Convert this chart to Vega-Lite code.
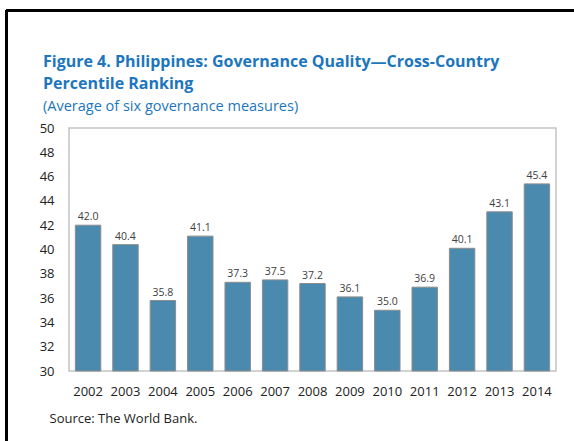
{
  "$schema": "https://vega.github.io/schema/vega-lite/v6.json",
  "width": 487,
  "height": 243,
  "autosize": {"type": "none"},
  "padding": {"left": 69, "top": 128, "right": 18, "bottom": 70},
  "background": "#ffffff",
  "config": {
    "font": "Open Sans",
    "view": {"stroke": "#c4c4c4", "strokeWidth": 1.5},
    "axisY": {"labelOverlap": false, "labelSeparation": 0}
  },
  "title": {
    "text": ["Figure 4. Philippines: Governance Quality\u2014Cross-Country", "Percentile Ranking"],
    "subtitle": "(Average of six governance measures)",
    "anchor": "start",
    "frame": "group",
    "dx": -26,
    "dy": 118,
    "font": "Open Sans",
    "fontSize": 16,
    "fontWeight": "bold",
    "lineHeight": 21.5,
    "color": "#1c76bd",
    "subtitleFont": "Open Sans",
    "subtitleFontSize": 14.5,
    "subtitleColor": "#1c76bd",
    "subtitlePadding": 8,
    "offset": 14
  },
  "data": {
    "values": [
      {"year": "2002", "value": 42.0},
      {"year": "2003", "value": 40.4},
      {"year": "2004", "value": 35.8},
      {"year": "2005", "value": 41.1},
      {"year": "2006", "value": 37.3},
      {"year": "2007", "value": 37.5},
      {"year": "2008", "value": 37.2},
      {"year": "2009", "value": 36.1},
      {"year": "2010", "value": 35.0},
      {"year": "2011", "value": 36.9},
      {"year": "2012", "value": 40.1},
      {"year": "2013", "value": 43.1},
      {"year": "2014", "value": 45.4}
    ]
  },
  "layer": [
    {
      "layer": [
        {
          "mark": {"type": "bar", "fill": "#4a8aae", "stroke": "#8c8c8c", "strokeWidth": 1},
          "encoding": {
            "x": {
              "field": "year",
              "type": "ordinal",
              "scale": {"paddingInner": 0.32, "paddingOuter": 0.17},
              "axis": {
                "title": "Source: The World Bank.",
                "titleAnchor": "start",
                "titleAlign": "left",
                "titleX": -20,
                "titleY": 51,
                "titleBaseline": "alphabetic",
                "titleFont": "Open Sans",
                "titleFontSize": 13,
                "titleFontWeight": "normal",
                "titleColor": "#222222",
                "labelAngle": 0,
                "labelFont": "Open Sans",
                "labelFontSize": 13,
                "labelColor": "#222222",
                "labelPadding": 14,
                "ticks": false,
                "domain": false
              }
            },
            "y": {
              "field": "value",
              "type": "quantitative",
              "scale": {"domain": [30, 50], "nice": false, "zero": false},
              "axis": {
                "title": null,
                "values": [30, 32, 34, 36, 38, 40, 42, 44, 46, 48, 50],
                "tickCount": 11,
                "labelOverlap": false,
                "labelFont": "Open Sans",
                "labelFontSize": 13,
                "labelColor": "#222222",
                "labelPadding": 15,
                "ticks": false,
                "domain": false,
                "grid": false
              }
            },
            "y2": {"datum": 30}
          }
        },
        {
          "mark": {"type": "text", "baseline": "alphabetic", "dy": -5, "font": "Open Sans", "fontSize": 10.5, "color": "#404040"},
          "encoding": {
            "x": {"field": "year", "type": "ordinal"},
            "y": {"field": "value", "type": "quantitative"},
            "text": {"field": "value", "type": "quantitative", "format": ".1f"}
          }
        }
      ]
    },
    {
      "mark": {"type": "rule", "color": "#000000", "strokeWidth": 2, "clip": false},
      "encoding": {
        "x": {"datum": -0.128, "type": "quantitative", "scale": {"domain": [0, 1], "nice": false, "zero": false}, "axis": null},
        "x2": {"datum": 1.04},
        "y": {
          "datum": 59.7,
          "type": "quantitative",
          "axis": {
            "title": null,
            "values": [30, 32, 34, 36, 38, 40, 42, 44, 46, 48, 50],
            "tickCount": 11,
            "labelOverlap": false,
            "labelFont": "Open Sans",
            "labelFontSize": 13,
            "labelColor": "#222222",
            "labelPadding": 15,
            "ticks": false,
            "domain": false,
            "grid": false
          }
        }
      }
    },
    {
      "mark": {"type": "rule", "color": "#000000", "strokeWidth": 2, "clip": false},
      "encoding": {
        "x": {"datum": -0.128, "type": "quantitative", "scale": {"domain": [0, 1], "nice": false, "zero": false}, "axis": null},
        "y": {
          "datum": 59.7,
          "type": "quantitative",
          "axis": {
            "title": null,
            "values": [30, 32, 34, 36, 38, 40, 42, 44, 46, 48, 50],
            "tickCount": 11,
            "labelOverlap": false,
            "labelFont": "Open Sans",
            "labelFontSize": 13,
            "labelColor": "#222222",
            "labelPadding": 15,
            "ticks": false,
            "domain": false,
            "grid": false
          }
        },
        "y2": {"datum": 24.0}
      }
    }
  ],
  "resolve": {"scale": {"x": "independent"}}
}
